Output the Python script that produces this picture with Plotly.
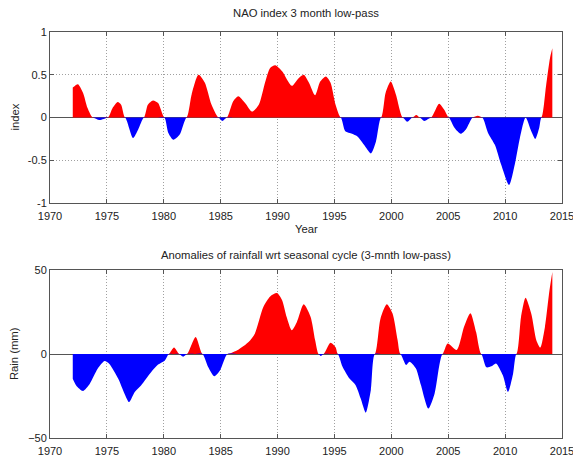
import plotly.graph_objects as go
from plotly.subplots import make_subplots

# NAO index (3-month low-pass)
nao_year = [1972.0, 1972.45, 1972.9, 1973.3, 1973.75, 1974.35, 1975.1, 1975.5, 1975.95, 1976.25,
            1976.6, 1977.3, 1977.75, 1978.25, 1978.6, 1979.05, 1979.5, 1980.05, 1980.4, 1980.85,
            1981.4, 1982.0, 1982.45, 1983.05, 1983.6, 1984.2, 1984.8, 1985.15, 1985.55, 1986.1,
            1986.55, 1987.15, 1987.75, 1988.35, 1988.9, 1989.35, 1989.8, 1990.4, 1991.25, 1991.85,
            1992.3, 1992.75, 1993.3, 1993.75, 1994.25, 1994.65, 1995.1, 1995.55, 1995.95, 1996.55,
            1997.0, 1997.6, 1998.2, 1998.65, 1999.1, 1999.5, 1999.95, 2000.4, 2001.0, 2001.4,
            2001.85, 2002.2, 2002.5, 2002.9, 2003.5, 2004.2, 2004.65, 2005.05, 2005.55, 2006.1,
            2006.55, 2007.15, 2007.6, 2008.0, 2008.5, 2009.1, 2009.65, 2010.35, 2010.85, 2011.3,
            2011.8, 2012.3, 2012.65, 2013.0, 2013.2, 2013.6, 2013.95, 2014.15]
nao_val = [0.35, 0.39, 0.29, 0.11, 0.0, -0.03, 0.0, 0.11, 0.18, 0.15,
           0.0, -0.24, -0.14, 0.0, 0.15, 0.20, 0.17, 0.0, -0.18, -0.26,
           -0.20, 0.0, 0.27, 0.50, 0.41, 0.15, 0.0, -0.04, 0.0, 0.19,
           0.25, 0.17, 0.07, 0.15, 0.41, 0.58, 0.61, 0.54, 0.37, 0.46,
           0.50, 0.41, 0.26, 0.42, 0.48, 0.41, 0.15, 0.0, -0.16, -0.19,
           -0.22, -0.32, -0.42, -0.28, 0.0, 0.29, 0.42, 0.27, 0.0, -0.05,
           0.0, 0.03, 0.0, -0.04, 0.0, 0.16, 0.09, 0.0, -0.12, -0.19,
           -0.14, 0.0, 0.02, 0.0, -0.18, -0.32, -0.55, -0.79, -0.55, -0.24,
           0.0, -0.16, -0.25, -0.12, 0.0, 0.37, 0.70, 0.81]

# Rainfall anomalies (mm, 3-month low-pass)
rain_year = [1972.0, 1972.3, 1972.9, 1973.5, 1974.2, 1974.8, 1975.2, 1976.0, 1976.55, 1976.95,
             1977.45, 1978.0, 1978.9, 1979.5, 1980.1, 1980.45, 1980.9, 1981.35, 1981.7, 1982.05,
             1982.8, 1983.4, 1983.9, 1984.45, 1984.95, 1985.6, 1986.55, 1987.45, 1988.0, 1988.75,
             1989.35, 1989.95, 1990.4, 1990.8, 1991.25, 1991.7, 1992.3, 1992.9, 1993.3, 1993.6,
             1993.8, 1994.05, 1994.65, 1995.1, 1995.3, 1995.7, 1996.3, 1996.85, 1997.3, 1997.75,
             1998.2, 1998.55, 1999.05, 1999.6, 2000.1, 2000.55, 2000.8, 2001.3, 2001.6, 2002.15,
             2002.6, 2003.25, 2003.8, 2004.2, 2004.5, 2004.95, 2005.75, 2006.4, 2006.95, 2007.45,
             2007.9, 2008.35, 2008.8, 2009.2, 2009.8, 2010.25, 2010.7, 2011.0, 2011.4, 2011.8,
             2012.3, 2012.75, 2013.1, 2013.5, 2013.9, 2014.15]
rain_val = [-14.7, -18.7, -22.0, -17.7, -8.7, -4.2, -5.8, -14.7, -23.6, -28.6,
            -22.6, -18.7, -10.7, -6.3, -3.8, 0.0, 3.8, 0.0, -1.6, 0.0,
            10.1, 0.0, -7.7, -13.3, -9.7, 0.0, 2.6, 7.1, 12.1, 28.0,
            34.3, 36.3, 32.0, 22.0, 14.1, 19.0, 29.6, 22.2, 8.3, 0.0,
            -1.2, 0.0, 6.7, 4.0, 0.0, -7.5, -14.5, -18.5, -26.4, -34.9,
            -21.4, 0.0, 21.2, 29.6, 24.2, 8.3, 0.0, -6.5, -4.6, -8.5,
            -18.5, -32.5, -23.6, -7.5, 0.0, 6.3, 2.4, 16.3, 24.2, 13.1,
            0.0, -7.9, -7.3, -5.6, -12.7, -22.6, -11.7, 0.0, 22.0, 33.5,
            24.0, 8.1, 3.8, 16.0, 37.9, 48.8]

x_ticks = [1970, 1975, 1980, 1985, 1990, 1995, 2000, 2005, 2010, 2015]

# the photographed page comes out ~2.5% smaller than laid out, so lay out slightly larger
k = 1.026
W, H = 586, 469
mt, mb, ml, mr = 31 * k, 20 * k, 49 * k, 12.5
ph = H - mt - mb

fig = make_subplots(rows=2, cols=1)

def add_area(xs, vs, row):
    pos = [max(v, 0) for v in vs]
    neg = [min(v, 0) for v in vs]
    fig.add_trace(go.Scatter(x=xs, y=pos, mode="lines", fill="tozeroy",
                             fillcolor="#ff0000", line=dict(width=0, color="#ff0000", shape="spline", smoothing=0.7),
                             hoverinfo="skip", showlegend=False), row=row, col=1)
    fig.add_trace(go.Scatter(x=xs, y=neg, mode="lines", fill="tozeroy",
                             fillcolor="#0000ff", line=dict(width=0, color="#0000ff", shape="spline", smoothing=0.7),
                             hoverinfo="skip", showlegend=False), row=row, col=1)

add_area(nao_year, nao_val, 1)
add_area(rain_year, rain_val, 2)

font = dict(family="Liberation Sans, Arial, sans-serif", size=11 * k, color="#222")
tick_font = dict(family="Liberation Sans, Arial, sans-serif", size=11, color="#222")
axis_common = dict(showline=True, mirror="allticks", linecolor="#555", linewidth=1,
                   ticks="inside", ticklen=4, tickcolor="#555",
                   showgrid=True, gridcolor="#a0a0a0", griddash="1px,2px", gridwidth=1,
                   tickfont=tick_font)

fig.update_xaxes(range=[1970, 2015], tickvals=x_ticks, zeroline=False,
                 ticklabelstandoff=3, **axis_common)
fig.update_yaxes(zeroline=True, zerolinecolor="#555", zerolinewidth=1, **axis_common)
fig.update_yaxes(range=[-1, 1], tickvals=[-1, -0.5, 0, 0.5, 1],
                 ticktext=["-1", "-0.5", "0", "0.5", "1"], row=1, col=1)
fig.update_yaxes(range=[-50, 50], tickvals=[-50, 0, 50], row=2, col=1)

top_lo = (437 - 202) / (437 - 31)
bot_hi = (437 - 269) / (437 - 31)
fig.update_layout(
    width=W, height=H,
    margin=dict(l=ml, r=mr, t=mt, b=mb),
    paper_bgcolor="white", plot_bgcolor="white",
    font=font,
    yaxis=dict(domain=[top_lo, 1]),
    yaxis2=dict(domain=[0, bot_hi]),
    annotations=[
        dict(text="NAO index 3 month low-pass", xref="paper", yref="paper", x=0.5, y=1,
             yshift=19 * k, showarrow=False, font=font, xanchor="center", yanchor="middle"),
        dict(text="Year", xref="paper", yref="paper", x=0.5, y=top_lo, yshift=-25 * k,
             showarrow=False, font=font, xanchor="center", yanchor="middle"),
        dict(text="Anomalies of rainfall wrt seasonal cycle (3-mnth low-pass)", xref="paper", yref="paper",
             x=0.5, y=bot_hi, yshift=15 * k, showarrow=False, font=font, xanchor="center", yanchor="middle"),
        dict(text="index", xref="paper", yref="paper", x=0, xshift=-35 * k, y=(top_lo + 1) / 2,
             textangle=-90, showarrow=False, font=font, xanchor="center", yanchor="middle"),
        dict(text="Rain (mm)", xref="paper", yref="paper", x=0, xshift=-35 * k, y=bot_hi / 2,
             textangle=-90, showarrow=False, font=font, xanchor="center", yanchor="middle"),
    ],
)

fig.write_html("out.html", config={"displayModeBar": False},
               post_script="document.body.style.margin='0';")
